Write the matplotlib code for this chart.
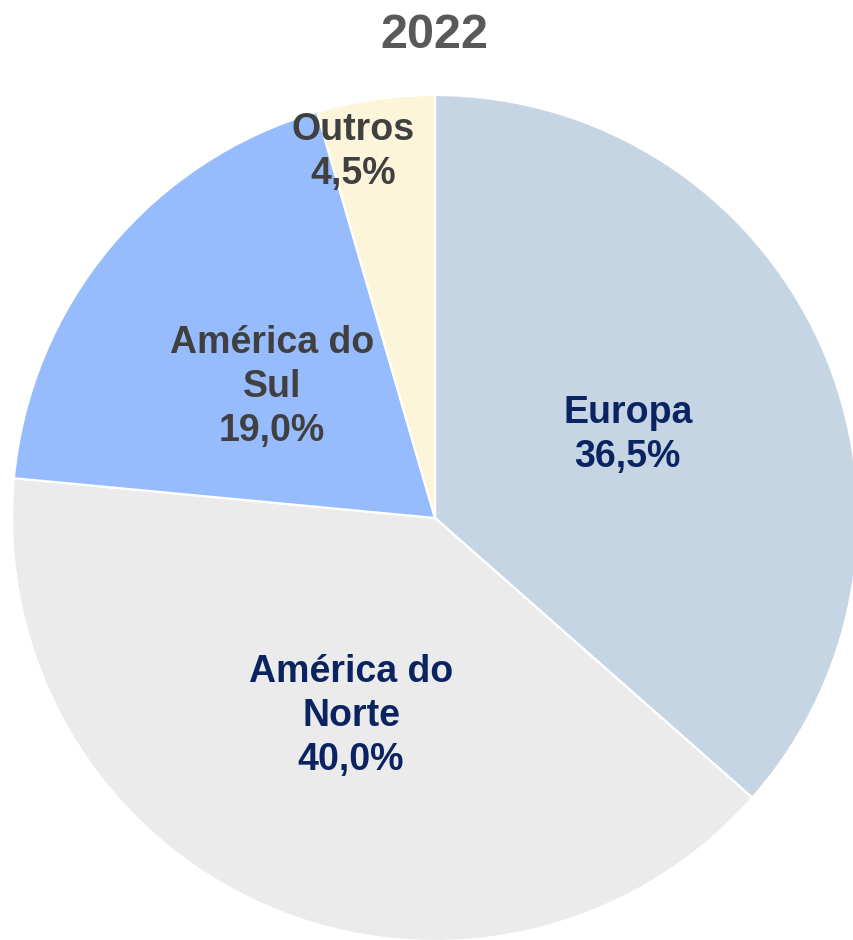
import matplotlib
matplotlib.use("Agg")
import matplotlib.pyplot as plt
import matplotlib.transforms as mtransforms
import numpy as np

title = "2022"
labels = ["Europa", "América do\nNorte", "América do\nSul", "Outros"]
values = [36.5, 40.0, 19.0, 4.5]
colors = ["#C5D5E3", "#EBEBEB", "#97BCFD", "#FDF5DA"]
text_colors = ["#0B2461", "#0B2461", "#404040", "#404040"]
label_r = [0.5, 0.5, 0.5, 0.896]
label_shift = [0.0, 0.0, 0.0, 4.4]

plt.rcParams['font.family'] = ['Liberation Sans', 'DejaVu Sans']

W, H = 854, 940
fig = plt.figure(figsize=(W / 100, H / 100), dpi=100)
cx, cy, R = 435, 518, 423
ax = fig.add_axes([(cx - R) / W, (H - cy - R) / H, 2 * R / W, 2 * R / H])
wedges, _ = ax.pie(values, colors=colors, startangle=90, counterclock=False,
                   radius=1.0, wedgeprops=dict(edgecolor="white", linewidth=1.6))
ax.set_xlim(-1, 1)
ax.set_ylim(-1, 1)
ax.set_aspect("equal")
ax.axis("off")

trans = mtransforms.offset_copy(ax.transData, fig=fig, x=0, y=-4, units="dots")
for w, lab, v, tc, r, sh in zip(wedges, labels, values, text_colors, label_r, label_shift):
    ang = np.deg2rad((w.theta1 + w.theta2) / 2 + sh)
    txt = f"{lab}\n{v:.1f}%".replace(".", ",")
    ax.text(r * np.cos(ang), r * np.sin(ang), txt, ha="center", va="center",
            fontsize=27, fontweight="bold", color=tc, linespacing=1.28,
            transform=trans)

fig.text(0.509, 1 - 35 / H, title, ha="center", va="center", fontsize=35,
         fontweight="bold", color="#595959")

fig.savefig("out.png", dpi=100)
